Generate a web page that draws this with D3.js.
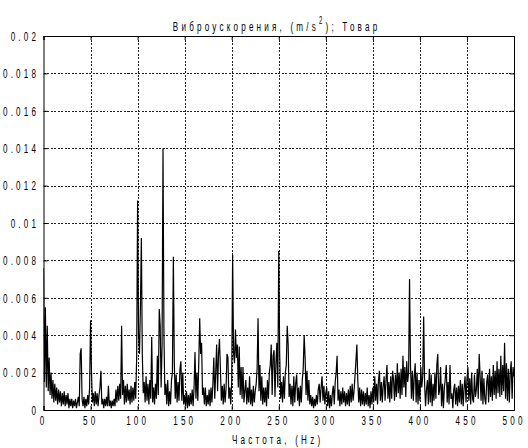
<!DOCTYPE html>
<html>
<head>
<meta charset="utf-8">
<script src="https://cdn.jsdelivr.net/npm/d3@7"></script>
<style>
  html, body { margin: 0; padding: 0; background: #fff; }
</style>
</head>
<body>
<svg id="chart" width="528" height="448"></svg>
<script>
// Spectrum of vibration acceleration, 1 Hz steps from 0 to 500 Hz (m/s^2)
const freqStart = 0;
const freqStep = 1;
const accel = [
  0.0076,0.0015,0.0055,0.0012,0.0045,0.0010,0.0028,0.0008,0.0020,0.0006,
  0.0016,0.0004,0.0014,0.0005,0.0012,0.0003,0.0011,0.0004,0.0010,0.0002,
  0.0009,0.0003,0.0010,0.0002,0.0008,0.0003,0.0009,0.0001,0.0006,0.0002,
  0.0006,0.0001,0.0005,0.0002,0.0006,0.0001,0.0004,0.0007,0.0002,0.0030,
  0.0033,0.0006,0.0002,0.0007,0.0001,0.0006,0.0002,0.0008,0.0003,0.0012,
  0.0048,0.0020,0.0004,0.0009,0.0002,0.0010,0.0003,0.0009,0.0002,0.0008,
  0.0012,0.0021,0.0003,0.0006,0.0001,0.0006,0.0002,0.0007,0.0002,0.0013,
  0.0002,0.0005,0.0001,0.0005,0.0002,0.0006,0.0002,0.0011,0.0004,0.0013,
  0.0005,0.0014,0.0006,0.0045,0.0008,0.0016,0.0003,0.0013,0.0004,0.0014,
  0.0005,0.0011,0.0003,0.0013,0.0004,0.0012,0.0005,0.0015,0.0006,0.0028,
  // 100 Hz
  0.0112,0.0040,0.0030,0.0055,0.0092,0.0030,0.0009,0.0015,0.0004,0.0018,
  0.0005,0.0014,0.0003,0.0016,0.0006,0.0039,0.0004,0.0012,0.0003,0.0014,
  0.0006,0.0029,0.0008,0.0054,0.0045,0.0012,0.0035,0.0140,0.0040,0.0008,
  0.0014,0.0003,0.0016,0.0002,0.0010,0.0003,0.0016,0.0020,0.0082,0.0025,
  0.0006,0.0019,0.0004,0.0015,0.0005,0.0022,0.0026,0.0005,0.0020,0.0003,
  0.0008,0.0002,0.0010,0.0001,0.0008,0.0002,0.0009,0.0003,0.0011,0.0002,
  0.0012,0.0031,0.0006,0.0020,0.0005,0.0025,0.0049,0.0030,0.0036,0.0008,
  0.0012,0.0003,0.0012,0.0002,0.0008,0.0003,0.0011,0.0002,0.0012,0.0004,
  0.0014,0.0028,0.0006,0.0020,0.0035,0.0010,0.0030,0.0038,0.0022,0.0005,
  0.0013,0.0003,0.0014,0.0004,0.0011,0.0030,0.0028,0.0006,0.0012,0.0003,
  // 200 Hz
  0.0015,0.0083,0.0030,0.0025,0.0043,0.0028,0.0035,0.0012,0.0034,0.0008,
  0.0023,0.0006,0.0023,0.0004,0.0010,0.0016,0.0003,0.0012,0.0004,0.0018,
  0.0003,0.0011,0.0002,0.0013,0.0004,0.0010,0.0014,0.0022,0.0049,0.0010,
  0.0024,0.0005,0.0018,0.0003,0.0012,0.0004,0.0012,0.0002,0.0016,0.0006,
  0.0020,0.0024,0.0035,0.0008,0.0029,0.0032,0.0007,0.0025,0.0036,0.0012,
  0.0085,0.0030,0.0006,0.0015,0.0004,0.0018,0.0006,0.0020,0.0024,0.0045,
  0.0035,0.0007,0.0014,0.0003,0.0013,0.0002,0.0018,0.0004,0.0014,0.0019,
  0.0005,0.0012,0.0002,0.0013,0.0004,0.0016,0.0022,0.0040,0.0028,0.0008,
  0.0021,0.0005,0.0016,0.0003,0.0008,0.0002,0.0007,0.0001,0.0006,0.0002,
  0.0008,0.0003,0.0011,0.0014,0.0004,0.0012,0.0018,0.0005,0.0013,0.0003,
  // 300 Hz
  0.0009,0.0012,0.0002,0.0010,0.0001,0.0008,0.0002,0.0009,0.0013,0.0003,
  0.0015,0.0020,0.0029,0.0005,0.0011,0.0002,0.0010,0.0003,0.0012,0.0004,
  0.0010,0.0002,0.0009,0.0003,0.0011,0.0002,0.0013,0.0004,0.0014,0.0005,
  0.0010,0.0018,0.0026,0.0035,0.0016,0.0004,0.0012,0.0002,0.0011,0.0003,
  0.0010,0.0002,0.0009,0.0003,0.0012,0.0002,0.0008,0.0001,0.0010,0.0003,
  0.0012,0.0004,0.0018,0.0005,0.0014,0.0003,0.0016,0.0021,0.0005,0.0015,
  0.0004,0.0013,0.0018,0.0005,0.0016,0.0024,0.0006,0.0015,0.0004,0.0018,
  0.0006,0.0021,0.0016,0.0005,0.0019,0.0007,0.0025,0.0009,0.0020,0.0006,
  0.0022,0.0008,0.0029,0.0012,0.0023,0.0007,0.0026,0.0015,0.0020,0.0070,
  0.0024,0.0006,0.0021,0.0005,0.0018,0.0025,0.0004,0.0020,0.0003,0.0016,
  // 400 Hz
  0.0005,0.0023,0.0012,0.0018,0.0050,0.0014,0.0002,0.0011,0.0016,0.0003,
  0.0022,0.0004,0.0019,0.0002,0.0014,0.0005,0.0020,0.0006,0.0024,0.0030,
  0.0008,0.0011,0.0023,0.0002,0.0014,0.0001,0.0012,0.0017,0.0024,0.0004,
  0.0015,0.0003,0.0024,0.0006,0.0009,0.0001,0.0011,0.0014,0.0003,0.0012,
  0.0002,0.0013,0.0004,0.0016,0.0003,0.0014,0.0002,0.0012,0.0018,0.0004,
  0.0016,0.0023,0.0005,0.0017,0.0003,0.0020,0.0006,0.0004,0.0019,0.0007,
  0.0011,0.0022,0.0006,0.0030,0.0018,0.0005,0.0021,0.0003,0.0017,0.0006,
  0.0003,0.0015,0.0019,0.0004,0.0022,0.0007,0.0018,0.0005,0.0024,0.0008,
  0.0021,0.0006,0.0026,0.0009,0.0022,0.0007,0.0029,0.0008,0.0024,0.0010,
  0.0036,0.0006,0.0025,0.0005,0.0022,0.0004,0.0020,0.0026,0.0006,0.0023,
  0.0018
];

const xTicks = [0, 50, 100, 150, 200, 250, 300, 350, 400, 450, 500];
const yTicks = [0, 0.002, 0.004, 0.006, 0.008, 0.01, 0.012, 0.014, 0.016, 0.018, 0.02];
const yTickLabels = ["0", "0.002", "0.004", "0.006", "0.008", "0.01", "0.012", "0.014", "0.016", "0.018", "0.02"];
const titleText = "Виброускорения, (m/s";
const titleSup = "2";
const titleTail = "); Товар";
const xLabel = "Частота, (Hz)";

const margin = { left: 43.5, right: 14, top: 36, bottom: 38 };
const W = 528, H = 448;
const svg = d3.select("#chart");

const x = d3.scaleLinear().domain([0, 500]).range([margin.left, W - margin.right]);
const y = d3.scaleLinear().domain([0, 0.02]).range([H - margin.bottom, margin.top]);

const points = accel.map((v, i) => [freqStart + i * freqStep, v]);

// narrow, widely tracked lettering
const FONT = "Liberation Sans, Arial, sans-serif";
const FS = 13.5;
const SX = 0.6;
const TRACK = 3.2;

function condense(sel, dxShift) {
  sel.each(function () {
    const t = d3.select(this);
    const x0 = (+t.attr("x") || 0) + (dxShift || 0);
    const y0 = +t.attr("y") || 0;
    t.attr("font-family", FONT).attr("font-size", FS)
      .attr("x", 0).attr("y", 0)
      .attr("transform", `translate(${x0},${y0}) scale(${SX},1)`);
    const n = this.getNumberOfChars();
    const w = this.getComputedTextLength();
    if (n > 1) t.attr("textLength", w + (n - 1) * TRACK / SX).attr("lengthAdjust", "spacing");
  });
}

// dotted grid
const grid = svg.append("g").attr("stroke", "#222").attr("stroke-width", 1)
  .attr("stroke-dasharray", "2,1.5").attr("shape-rendering", "crispEdges");
grid.selectAll("line.v").data(xTicks.slice(1, -1)).join("line")
  .attr("x1", d => Math.round(x(d)) + 0.5).attr("x2", d => Math.round(x(d)) + 0.5)
  .attr("y1", y(0.02)).attr("y2", y(0));
grid.selectAll("line.h").data(yTicks.slice(1, -1)).join("line")
  .attr("x1", x(0)).attr("x2", x(500))
  .attr("y1", d => Math.round(y(d)) + 0.5).attr("y2", d => Math.round(y(d)) + 0.5);

// spectrum trace
svg.append("clipPath").attr("id", "plotClip").append("rect")
  .attr("x", x(0)).attr("y", y(0.02)).attr("width", x(500) - x(0)).attr("height", y(0) - y(0.02));
svg.append("path")
  .datum(points)
  .attr("clip-path", "url(#plotClip)")
  .attr("fill", "none")
  .attr("stroke", "#000")
  .attr("stroke-width", 1.2)
  .attr("stroke-linejoin", "miter")
  .attr("d", d3.line().x(d => x(d[0])).y(d => y(d[1])));

// axes: ticks pointing inward on all four sides
const tickLen = 4;
const bottomAxis = d3.axisBottom(x).tickValues(xTicks).tickSize(-tickLen).tickPadding(5).tickFormat(d3.format("d"));
const topAxis = d3.axisTop(x).tickValues(xTicks).tickSize(-tickLen).tickFormat("");
const leftAxis = d3.axisLeft(y).tickValues(yTicks).tickSize(-tickLen).tickPadding(7.5).tickFormat((d, i) => yTickLabels[i]);
const rightAxis = d3.axisRight(y).tickValues(yTicks).tickSize(-tickLen).tickFormat("");

function styleAxis(g) {
  g.select(".domain").attr("stroke", "#000").attr("stroke-width", 1);
  g.selectAll(".tick line").attr("stroke", "#000");
}
const gBottom = svg.append("g").attr("transform", `translate(0,${y(0)})`).call(bottomAxis).call(styleAxis);
svg.append("g").attr("transform", `translate(0,${y(0.02)})`).call(topAxis).call(styleAxis);
const gLeft = svg.append("g").attr("transform", `translate(${x(0)},0)`).call(leftAxis).call(styleAxis);
svg.append("g").attr("transform", `translate(${x(500)},0)`).call(rightAxis).call(styleAxis);
gBottom.selectAll(".tick text").call(condense, -2);
gLeft.selectAll(".tick text").call(condense, 0);

// title with superscript
const title = svg.append("text")
  .attr("x", 275).attr("y", 31)
  .attr("text-anchor", "middle");
title.append("tspan").text(titleText);
title.append("tspan").attr("dy", -7).attr("font-size", 10).text(titleSup);
title.append("tspan").attr("dy", 7).text(titleTail);
title.call(condense, 0);

// x axis label
svg.append("text")
  .attr("x", 276).attr("y", 443.5)
  .attr("text-anchor", "middle")
  .text(xLabel)
  .call(condense, 0);
</script>
</body>
</html>
